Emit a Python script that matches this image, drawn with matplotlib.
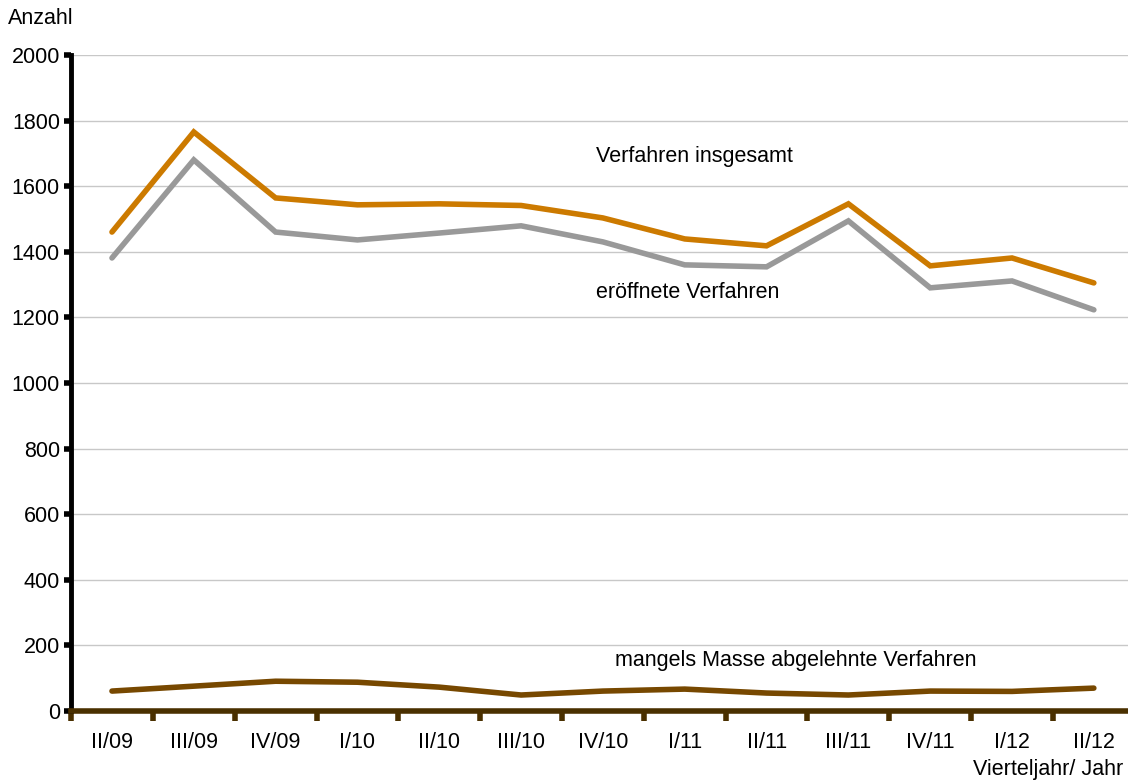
import numpy as np
import matplotlib.pyplot as plt

plt.rcParams['font.family'] = ['Liberation Sans', 'DejaVu Sans']

quarters = ["II/09", "III/09", "IV/09", "I/10", "II/10", "III/10", "IV/10",
            "I/11", "II/11", "III/11", "IV/11", "I/12", "II/12"]
insgesamt = [1460, 1765, 1564, 1543, 1546, 1541, 1503, 1439, 1418, 1546, 1357, 1381, 1305]
eroeffnet = [1381, 1680, 1460, 1436, 1457, 1479, 1430, 1360, 1354, 1494, 1290, 1311, 1223]
mangels_masse = [61, 76, 91, 88, 73, 49, 61, 67, 55, 49, 61, 60, 70]

fs = 15.5

fig = plt.figure(figsize=(11.28, 7.84), dpi=100)
ax = fig.add_axes([0.063, 0.093, 0.943, 0.837])

x = np.arange(len(quarters))
ax.plot(x, insgesamt, color="#cc7a00", lw=4, solid_capstyle="round", solid_joinstyle="miter")
ax.plot(x, eroeffnet, color="#999999", lw=4, solid_capstyle="round", solid_joinstyle="miter")
ax.plot(x, mangels_masse, color="#774800", lw=4, solid_capstyle="round", solid_joinstyle="miter")

ax.set_xlim(-0.5, len(quarters) - 0.5)
ax.set_ylim(0, 2000)
ax.set_yticks(range(0, 2001, 200))
ax.grid(axis="y", color="#c8c8c8", lw=1)
ax.set_axisbelow(True)

ax.set_xticks(x)
ax.set_xticklabels(quarters)
ax.set_xticks(np.arange(-0.5, len(quarters)), minor=True)
ax.tick_params(axis="x", which="major", length=0, pad=15, labelsize=fs)
ax.tick_params(axis="x", which="minor", length=7, width=4, color="#4a3000", direction="out")
ax.tick_params(axis="y", length=5, width=4, color="black", labelsize=fs, pad=3)

for side in ["top", "right"]:
    ax.spines[side].set_visible(False)
ax.spines["left"].set_linewidth(3.5)
ax.spines["bottom"].set_linewidth(4)
ax.spines["bottom"].set_color("#4a3000")
ax.spines["bottom"].set_zorder(5)

fig.text(8 / 1128, 1 - 18 / 784, "Anzahl", ha="left", va="center", fontsize=fs)
fig.text(1123 / 1128, 1 - 769 / 784, "Vierteljahr/ Jahr", ha="right", va="center", fontsize=fs)

ax.text(7.12, 1689, "Verfahren insgesamt", ha="center", va="center", fontsize=fs)
ax.text(7.03, 1277, "eröffnete Verfahren", ha="center", va="center", fontsize=fs)
ax.text(8.36, 155, "mangels Masse abgelehnte Verfahren", ha="center", va="center", fontsize=fs)

fig.savefig("out.png", dpi=100)
